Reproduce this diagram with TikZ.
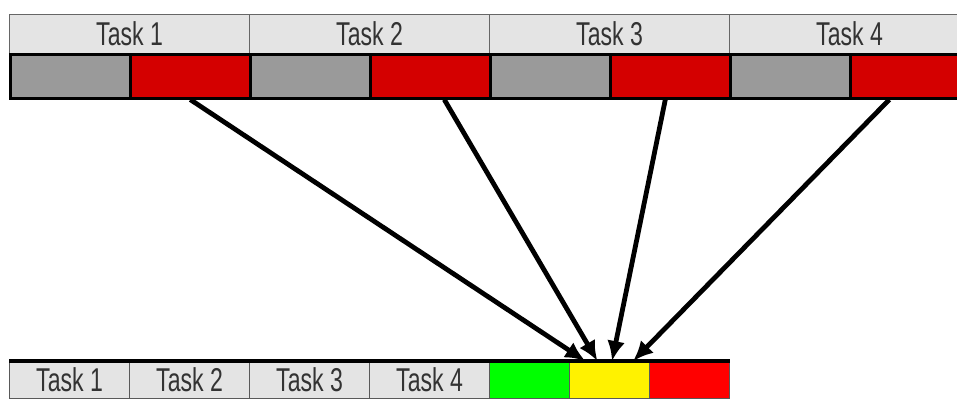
\documentclass[tikz,border=0pt]{standalone}
\usepackage{fontspec}
\newfontfamily\taskfont[FakeStretch=0.7]{Liberation Sans}
\usetikzlibrary{arrows.meta,calc}
\definecolor{darkred}{HTML}{D40000}
\definecolor{lightgray}{HTML}{E4E4E4}
\definecolor{midgray}{HTML}{9A9A9A}

\begin{document}
\begin{tikzpicture}[x=0.5pt, y=-0.5pt]
    % Styles
    \tikzstyle{head} = [rectangle, draw=black!60, line width=0.6pt, fill=lightgray, minimum width=120pt, minimum height=19.5pt, anchor=north west, inner sep=0pt, font=\taskfont\fontsize{16.5}{16.5}\selectfont, text=black!80]
    \tikzstyle{bar} = [rectangle, draw=black, line width=1.3pt, minimum width=60pt, minimum height=22pt, anchor=north west, inner sep=0pt]
    \tikzstyle{slot} = [rectangle, draw=black!65, line width=0.6pt, minimum height=18.5pt, anchor=north west, inner sep=0pt, font=\taskfont\fontsize{16.5}{16.5}\selectfont, text=black!80]
    \tikzstyle{arrow} = [-{Latex[length=10pt, width=9pt]}, line width=2.4pt]

    \clip (0,0) rectangle (957,399);

    % Header row
    \node[head] (head1) at (9,14) {Task 1};
    \node[head] (head2) at (249,14) {Task 2};
    \node[head] (head3) at (489,14) {Task 3};
    \node[head] (head4) at (729,14) {Task 4};

    % Bars: waiting (gray) and running (red)
    \node[bar, fill=midgray] (wait1) at (9,53) {};
    \node[bar, fill=darkred] (run1) at (129,53) {};
    \node[bar, fill=midgray] (wait2) at (249,53) {};
    \node[bar, fill=darkred] (run2) at (369,53) {};
    \node[bar, fill=midgray] (wait3) at (489,53) {};
    \node[bar, fill=darkred] (run3) at (609,53) {};
    \node[bar, fill=midgray] (wait4) at (729,53) {};
    \node[bar, fill=darkred] (run4) at (849,53) {};

    % Bottom row
    \node[slot, fill=lightgray, minimum width=60pt] (t1) at (9,361) {Task 1};
    \node[slot, fill=lightgray, minimum width=60pt] (t2) at (129,361) {Task 2};
    \node[slot, fill=lightgray, minimum width=60pt] (t3) at (249,361) {Task 3};
    \node[slot, fill=lightgray, minimum width=60pt] (t4) at (369,361) {Task 4};
    \node[slot, fill=green, minimum width=40pt] (grn) at (489,361) {};
    \node[slot, fill=yellow, minimum width=40pt] (yel) at (569,361) {};
    \node[slot, fill=red, minimum width=40pt] (rd) at (649,361) {};
    \draw[line width=2pt] (t1.north west) -- (rd.north east);

    % Arrow ends
    \coordinate (in1) at ($(yel.north west)!0.2!(yel.north east)$);
    \coordinate (in2) at ($(yel.north west)!0.35!(yel.north east)$);
    \coordinate (in3) at ($(yel.north west)!0.53!(yel.north east)$);
    \coordinate (in4) at ($(yel.north west)!0.79!(yel.north east)$);

    % Arrows
    \draw[arrow] (run1.south) -- (in1);
    \draw[arrow] ([xshift=7pt]run2.south) -- (in2);
    \draw[arrow] ([xshift=-2.5pt]run3.south) -- (in3);
    \draw[arrow] ([xshift=-10.5pt]run4.south) -- (in4);
\end{tikzpicture}
\end{document}
